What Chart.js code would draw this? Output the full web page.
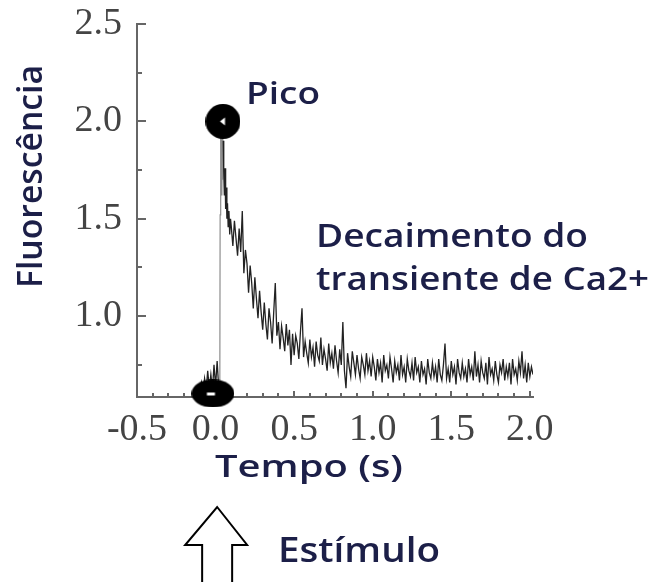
<!DOCTYPE html>
<html>
<head>
<meta charset="utf-8">
<script src="https://cdn.jsdelivr.net/npm/chart.js@4.4.1/dist/chart.umd.min.js"></script>
<style>
  html, body { margin: 0; padding: 0; background: #fff; }
  canvas { display: block; }
</style>
</head>
<body>
<canvas id="calciumChart" width="657" height="582"></canvas>
<script>
// baseline before the stimulus
const preTimes  = [-0.14, -0.13, -0.12, -0.11, -0.10, -0.09, -0.08, -0.07, -0.06, -0.05, -0.04, -0.03, -0.02, -0.01, 0.00, 0.01, 0.02, 0.027];
const preValues = [0.61, 0.63, 0.60, 0.64, 0.62, 0.66, 0.61, 0.68, 0.62, 0.72, 0.63, 0.70, 0.62, 0.75, 0.64, 0.77, 0.63, 0.62];

// fast rise up to the peak
const riseTimes  = [0.029, 0.031, 0.034, 0.037, 0.040, 0.043, 0.046, 0.049, 0.052, 0.056, 0.060, 0.064, 0.068, 0.072, 0.076, 0.080, 0.085, 0.090, 0.095];
const riseValues = [1.52, 1.98, 1.58, 2.00, 1.62, 1.95, 1.70, 1.90, 1.74, 1.62, 1.76, 1.55, 1.66, 1.50, 1.58, 1.46, 1.54, 1.42, 1.50];

// early decay
const earlyTimes  = [0.10, 0.11, 0.12, 0.13, 0.14, 0.15, 0.16, 0.17, 0.18, 0.19, 0.20, 0.21, 0.22, 0.23, 0.24, 0.25, 0.26, 0.27, 0.28, 0.29];
const earlyValues = [1.46, 1.36, 1.49, 1.40, 1.31, 1.45, 1.33, 1.54, 1.22, 1.34, 1.27, 1.12, 1.26, 1.17, 1.04, 1.20, 1.09, 0.99, 1.13, 1.02];

// late decay, one sample every 10 ms
const lateTimes = [
  0.30, 0.31, 0.32, 0.33, 0.34, 0.35, 0.36, 0.37, 0.38, 0.39,
  0.40, 0.41, 0.42, 0.43, 0.44, 0.45, 0.46, 0.47, 0.48, 0.49,
  0.50, 0.51, 0.52, 0.53, 0.54, 0.55, 0.56, 0.57, 0.58, 0.59,
  0.60, 0.61, 0.62, 0.63, 0.64, 0.65, 0.66, 0.67, 0.68, 0.69,
  0.70, 0.71, 0.72, 0.73, 0.74, 0.75, 0.76, 0.77, 0.78, 0.79,
  0.80, 0.81, 0.82, 0.83, 0.84, 0.85, 0.86, 0.87, 0.88, 0.89,
  0.90, 0.91, 0.92, 0.93, 0.94, 0.95, 0.96, 0.97, 0.98, 0.99,
  1.00, 1.01, 1.02, 1.03, 1.04, 1.05, 1.06, 1.07, 1.08, 1.09,
  1.10, 1.11, 1.12, 1.13, 1.14, 1.15, 1.16, 1.17, 1.18, 1.19,
  1.20, 1.21, 1.22, 1.23, 1.24, 1.25, 1.26, 1.27, 1.28, 1.29,
  1.30, 1.31, 1.32, 1.33, 1.34, 1.35, 1.36, 1.37, 1.38, 1.39,
  1.40, 1.41, 1.42, 1.43, 1.44, 1.45, 1.46, 1.47, 1.48, 1.49,
  1.50, 1.51, 1.52, 1.53, 1.54, 1.55, 1.56, 1.57, 1.58, 1.59,
  1.60, 1.61, 1.62, 1.63, 1.64, 1.65, 1.66, 1.67, 1.68, 1.69,
  1.70, 1.71, 1.72, 1.73, 1.74, 1.75, 1.76, 1.77, 1.78, 1.79,
  1.80, 1.81, 1.82, 1.83, 1.84, 1.85, 1.86, 1.87, 1.88, 1.89,
  1.90, 1.91, 1.92, 1.93, 1.94, 1.95, 1.96, 1.97, 1.98, 1.99,
  2.00, 2.01, 2.02];
const lateValues = [
  0.93, 1.07, 0.96, 0.88, 1.04, 0.97, 0.86, 1.02, 1.17, 0.90,
  0.97, 0.83, 0.95, 0.89, 0.82, 0.96, 0.85, 0.93, 0.75, 0.91,
  0.80, 0.90, 0.86, 0.78, 0.92, 1.04, 0.79, 0.87, 0.81, 0.76,
  0.88, 0.79, 0.84, 0.74, 0.87, 0.80, 0.77, 0.89, 0.75, 0.83,
  0.78, 0.72, 0.86, 0.76, 0.81, 0.73, 0.85, 0.77, 0.71, 0.83,
  0.75, 0.97, 0.72, 0.63, 0.81, 0.74, 0.69, 0.82, 0.76, 0.70,
  0.80, 0.73, 0.68, 0.79, 0.75, 0.70, 0.81, 0.72, 0.77, 0.69,
  0.79, 0.74, 0.67, 0.78, 0.71, 0.76, 0.66, 0.80, 0.72, 0.75,
  0.68, 0.79, 0.73, 0.66, 0.77, 0.71, 0.75, 0.67, 0.80, 0.70,
  0.74, 0.66, 0.78, 0.72, 0.69, 0.76, 0.67, 0.79, 0.71, 0.74,
  0.66, 0.77, 0.70, 0.73, 0.65, 0.78, 0.71, 0.68, 0.76, 0.69,
  0.74, 0.66, 0.78, 0.70, 0.67, 0.75, 0.86, 0.68, 0.73, 0.66,
  0.77, 0.70, 0.74, 0.65, 0.78, 0.71, 0.68, 0.76, 0.69, 0.73,
  0.66, 0.78, 0.70, 0.74, 0.67, 0.82, 0.69, 0.75, 0.66, 0.77,
  0.71, 0.68, 0.76, 0.65, 0.79, 0.70, 0.73, 0.67, 0.77, 0.70,
  0.66, 0.75, 0.71, 0.78, 0.67, 0.74, 0.69, 0.76, 0.65, 0.78,
  0.70, 0.73, 0.67, 0.77, 0.71, 0.82, 0.68, 0.75, 0.66, 0.76,
  0.69, 0.74, 0.70];

// marked points
const peakPoint = { x: 0.047, y: 2.0 };
const startPoint = { x: -0.017, y: 0.603 };

const xTickValues = [-0.5, 0.0, 0.5, 1.0, 1.5, 2.0];
const yTickValues = [1.0, 1.5, 2.0, 2.5];

const textColor = '#1c1f48';
const axisColor = '#666';

const times = preTimes.concat(riseTimes, earlyTimes, lateTimes);
const values = preValues.concat(riseValues, earlyValues, lateValues);
const trace = times.map((t, i) => ({ x: t, y: values[i] }));

function blob(w, h, mark) {
  const c = document.createElement('canvas');
  c.width = w; c.height = h;
  const g = c.getContext('2d');
  g.fillStyle = '#000';
  g.beginPath();
  g.ellipse(w / 2, h / 2, w / 2, h / 2, 0, 0, Math.PI * 2);
  g.fill();
  g.fillStyle = '#fff';
  if (mark === 'tri') {
    g.beginPath();
    g.moveTo(w / 2 + 2, h / 2 - 4);
    g.lineTo(w / 2 + 2, h / 2 + 4);
    g.lineTo(w / 2 - 3, h / 2);
    g.closePath();
    g.fill();
  } else {
    g.fillRect(w / 2 - 6, h / 2 - 1, 8, 3);
  }
  return c;
}

function stretchedText(ctx, text, x, y, size, width, vertical) {
  ctx.save();
  ctx.font = '600 ' + size + 'px "Open Sans"';
  const sx = width / ctx.measureText(text).width;
  ctx.translate(x, y);
  if (vertical) ctx.rotate(-Math.PI / 2);
  ctx.scale(sx, 1);
  ctx.fillStyle = textColor;
  ctx.textBaseline = 'alphabetic';
  ctx.fillText(text, 0, 0);
  ctx.restore();
}

const annotations = {
  id: 'annotations',
  beforeDatasetsDraw(chart) {
    const { ctx, chartArea, scales: { x, y } } = chart;
    ctx.save();
    ctx.strokeStyle = axisColor;
    ctx.lineWidth = 2;
    ctx.beginPath();
    for (let v = 0.75; v <= 2.5001; v += 0.25) {
      const py = Math.round(y.getPixelForValue(v));
      const len = Math.abs(v * 2 - Math.round(v * 2)) < 0.01 ? 9 : 5;
      ctx.moveTo(chartArea.left, py);
      ctx.lineTo(chartArea.left + len, py);
    }
    for (let v = -0.4; v <= 2.0001; v += 0.1) {
      const px = Math.round(x.getPixelForValue(v));
      const len = Math.abs(v * 2 - Math.round(v * 2)) < 0.01 ? 6 : 4;
      ctx.moveTo(px, chartArea.bottom);
      ctx.lineTo(px, chartArea.bottom - len);
    }
    ctx.stroke();
    ctx.restore();
  },
  afterDraw(chart) {
    const { ctx, scales: { x } } = chart;
    stretchedText(ctx, 'Pico', 246, 104, 31, 74);
    stretchedText(ctx, 'Decaimento do', 316, 247, 33, 272);
    stretchedText(ctx, 'transiente de Ca2+', 316, 290, 33, 333);
    stretchedText(ctx, 'Tempo (s)', 215, 477, 31, 188);
    stretchedText(ctx, 'Fluorescência', 42, 288, 34, 223, true);
    stretchedText(ctx, 'Estímulo', 278, 562, 34, 162);

    // stimulus arrow
    const cx = x.getPixelForValue(0.01);
    ctx.save();
    ctx.strokeStyle = '#000';
    ctx.lineWidth = 2;
    ctx.lineJoin = 'miter';
    ctx.beginPath();
    ctx.moveTo(cx, 507);
    ctx.lineTo(cx + 30, 545);
    ctx.lineTo(cx + 15, 545);
    ctx.lineTo(cx + 15, 590);
    ctx.lineTo(cx - 15, 590);
    ctx.lineTo(cx - 15, 545);
    ctx.lineTo(cx - 32, 545);
    ctx.closePath();
    ctx.stroke();
    ctx.restore();
  }
};

const ctx = document.getElementById('calciumChart').getContext('2d');

new Chart(ctx, {
  type: 'scatter',
  data: {
    datasets: [
      {
        label: 'Marcadores',
        data: [peakPoint, startPoint],
        pointStyle: [blob(35, 35, 'tri'), blob(43, 28, 'rect')],
        pointRadius: 12,
        showLine: false,
        clip: false,
        order: 0
      },
      {
        label: 'Fluorescência',
        data: trace,
        showLine: true,
        borderColor: '#222',
        borderWidth: 1.3,
        pointRadius: 0,
        tension: 0,
        order: 1,
        segment: {
          borderColor: c => (c.p0.parsed.x >= 0.026 && c.p1.parsed.x <= 0.05 ? '#8e8e8e' : undefined),
          borderWidth: c => (c.p0.parsed.x >= 0.026 && c.p1.parsed.x <= 0.05 ? 1.2 : undefined)
        }
      }
    ]
  },
  options: {
    responsive: false,
    animation: false,
    layout: { padding: { left: 0, right: 124, top: 24, bottom: 85 } },
    scales: {
      x: {
        type: 'linear',
        min: -0.5,
        max: 2.02,
        afterFit: scale => { scale.height = 100; },
        afterBuildTicks: scale => { scale.ticks = xTickValues.map(v => ({ value: v })); },
        border: { display: true, color: axisColor, width: 2 },
        grid: { display: true, drawOnChartArea: false, drawTicks: false },
        ticks: {
          autoSkip: false,
          maxRotation: 0,
          padding: 10,
          color: '#444',
          font: { family: '"Liberation Serif"', size: 38 },
          callback: v => v.toFixed(1)
        }
      },
      y: {
        type: 'linear',
        min: 0.585,
        max: 2.5,
        afterFit: scale => {
          scale.width = 137;
          scale.paddingTop = 0;
          scale.paddingBottom = 0;
        },
        afterBuildTicks: scale => { scale.ticks = yTickValues.map(v => ({ value: v })); },
        border: { display: true, color: axisColor, width: 2 },
        grid: { display: true, drawOnChartArea: false, drawTicks: false },
        ticks: {
          padding: 15,
          color: '#444',
          font: { family: '"Liberation Serif"', size: 38 },
          callback: v => v.toFixed(1)
        }
      }
    },
    plugins: {
      legend: { display: false },
      tooltip: { enabled: false }
    }
  },
  plugins: [annotations]
});
</script>
</body>
</html>
